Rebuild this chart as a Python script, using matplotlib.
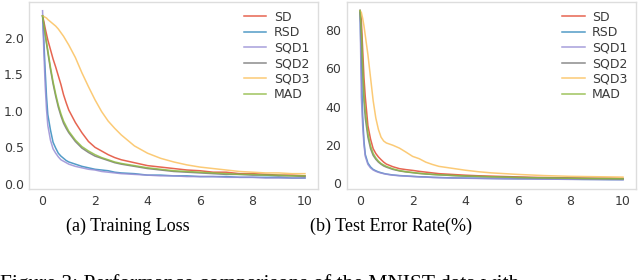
import matplotlib
matplotlib.use("Agg")
import matplotlib.pyplot as plt

names = ["SD", "RSD", "SQD1", "SQD2", "SQD3", "MAD"]
colors = ["#E24A33", "#348ABD", "#988ED5", "#777777", "#FBC15E", "#8EBA42"]

# training loss (epochs)
ep = [0, 0.05, 0.1, 0.15, 0.2, 0.3, 0.4, 0.5, 0.6, 0.7, 0.8, 0.9, 1.0, 1.25, 1.5, 1.75,
      2, 2.25, 2.5, 2.75, 3, 3.5, 4, 4.5, 5, 5.5, 6, 6.5, 7, 7.5, 8, 8.5, 9, 9.5, 10]
loss_sd = [2.30, 2.22, 2.13, 2.05, 1.97, 1.84, 1.71, 1.60, 1.48, 1.36, 1.22, 1.11, 1.01, 0.84, 0.70,
           0.58, 0.50, 0.45, 0.40, 0.36, 0.33, 0.29, 0.25, 0.23, 0.21, 0.19, 0.18, 0.16, 0.16, 0.14,
           0.14, 0.13, 0.12, 0.12, 0.11]
loss_rsd = [2.30, 1.95, 1.55, 1.20, 0.95, 0.74, 0.57, 0.49, 0.42, 0.38, 0.35, 0.32, 0.30, 0.27, 0.24,
            0.22, 0.20, 0.19, 0.18, 0.16, 0.15, 0.14, 0.12, 0.12, 0.11, 0.11, 0.10, 0.10, 0.10, 0.09,
            0.09, 0.09, 0.09, 0.08, 0.08]
loss_sqd1 = [2.37, 1.80, 1.35, 1.02, 0.80, 0.60, 0.48, 0.42, 0.37, 0.33, 0.31, 0.29, 0.27, 0.24, 0.22,
             0.20, 0.19, 0.17, 0.16, 0.15, 0.14, 0.13, 0.12, 0.11, 0.11, 0.10, 0.10, 0.10, 0.09, 0.09,
             0.09, 0.08, 0.08, 0.08, 0.08]
loss_sqd2 = [2.30, 2.17, 2.04, 1.92, 1.80, 1.57, 1.37, 1.20, 1.05, 0.93, 0.83, 0.76, 0.70, 0.58, 0.49,
             0.43, 0.38, 0.35, 0.32, 0.29, 0.27, 0.24, 0.21, 0.19, 0.17, 0.16, 0.15, 0.14, 0.13, 0.13,
             0.12, 0.12, 0.11, 0.11, 0.10]
loss_sqd3 = [2.30, 2.29, 2.28, 2.27, 2.25, 2.22, 2.19, 2.16, 2.12, 2.07, 2.02, 1.96, 1.90, 1.73, 1.52,
             1.33, 1.15, 0.99, 0.86, 0.76, 0.67, 0.52, 0.42, 0.35, 0.30, 0.26, 0.23, 0.21, 0.19, 0.17,
             0.16, 0.15, 0.15, 0.14, 0.14]
loss_mad = [2.30, 2.18, 2.06, 1.94, 1.83, 1.60, 1.40, 1.23, 1.08, 0.96, 0.86, 0.79, 0.72, 0.60, 0.51,
            0.45, 0.40, 0.36, 0.33, 0.30, 0.28, 0.25, 0.22, 0.20, 0.18, 0.17, 0.16, 0.15, 0.14, 0.13,
            0.13, 0.12, 0.12, 0.11, 0.11]

# test error rate (%)
err_sd = [90, 85, 70, 55, 45, 30, 23, 18, 15.5, 13.7, 12.3, 11.0, 10.0, 8.6, 7.6,
          7.1, 6.7, 6.2, 5.8, 5.4, 5.0, 4.6, 4.2, 3.9, 3.7, 3.5, 3.3, 3.1, 3.0, 2.9,
          2.8, 2.7, 2.6, 2.6, 2.5]
err_rsd = [90, 60, 35, 22, 15, 10.5, 8.5, 7.2, 6.5, 5.9, 5.5, 5.1, 4.8, 4.3, 4.0,
           3.8, 3.6, 3.4, 3.3, 3.1, 3.0, 2.8, 2.7, 2.6, 2.5, 2.4, 2.3, 2.3, 2.2, 2.1,
           2.1, 2.0, 2.0, 1.9, 1.9]
err_sqd1 = [90, 45, 30, 20, 14, 9.8, 8.0, 6.9, 6.2, 5.7, 5.3, 5.0, 4.7, 4.2, 3.9,
            3.7, 3.5, 3.3, 3.2, 3.0, 2.9, 2.7, 2.6, 2.5, 2.4, 2.3, 2.3, 2.2, 2.1, 2.1,
            2.0, 2.0, 1.9, 1.9, 1.8]
err_sqd2 = [90, 78, 58, 43, 34, 24, 18, 14.5, 12.5, 11.0, 9.9, 9.0, 8.4, 7.2, 6.4,
            5.9, 5.5, 5.1, 4.8, 4.6, 4.4, 4.0, 3.7, 3.5, 3.3, 3.2, 3.0, 2.9, 2.8, 2.7,
            2.6, 2.5, 2.5, 2.4, 2.3]
err_sqd3 = [90, 89, 86, 82, 77, 67, 55, 43, 34, 28, 24, 22, 21, 19.8, 18.3,
            16.2, 14.0, 12.8, 11.0, 9.8, 8.8, 7.8, 6.8, 6.0, 5.4, 5.0, 4.6, 4.3, 4.0, 3.8,
            3.6, 3.5, 3.4, 3.3, 3.2]
err_mad = [90, 80, 62, 46, 38, 26, 19.5, 15.5, 13.2, 11.5, 10.3, 9.5, 8.8, 7.5, 6.6,
           6.0, 5.6, 5.2, 4.9, 4.6, 4.4, 4.1, 3.8, 3.6, 3.4, 3.2, 3.0, 2.9, 2.8, 2.7,
           2.6, 2.5, 2.4, 2.4, 2.3]

loss = [loss_sd, loss_rsd, loss_sqd1, loss_sqd2, loss_sqd3, loss_mad]
err = [err_sd, err_rsd, err_sqd1, err_sqd2, err_sqd3, err_mad]

fig = plt.figure(figsize=(6.4, 2.8), dpi=100)
ax1 = fig.add_axes([0.046, 0.325, 0.451, 0.668])
ax2 = fig.add_axes([0.542, 0.325, 0.452, 0.668])

for ax, data in [(ax1, loss), (ax2, err)]:
    for name, c, y in zip(names, colors, data):
        ax.plot(ep, y, color=c, lw=1.1, alpha=0.85, label=name)
    for s in ax.spines.values():
        s.set_color("#dddddd")
        s.set_linewidth(1.0)
    ax.tick_params(length=0, labelsize=9, labelcolor="#3a3a3a", pad=4)
    ax.set_xlim(-0.5, 10.5)
    ax.set_xticks([0, 2, 4, 6, 8, 10])
    leg = ax.legend(loc="upper right", frameon=False, fontsize=9, handlelength=1.8,
                    handletextpad=0.6, labelspacing=0.2, borderaxespad=0.3)
    for t in leg.get_texts():
        t.set_color("#3a3a3a")

ax1.set_ylim(-0.07, 2.49)
ax1.set_yticks([0.0, 0.5, 1.0, 1.5, 2.0])
ax2.set_ylim(-3.0, 94.5)
ax2.set_yticks([0, 20, 40, 60, 80])

serif = ["Liberation Serif", "DejaVu Serif"]
fig.text(0.199, 0.19, "(a) Training Loss", ha="center", va="center", fontsize=13, family=serif)
fig.text(0.611, 0.19, "(b) Test Error Rate(%)", ha="center", va="center", fontsize=13, family=serif)
# figure caption, cut off by the bottom edge as in the source
fig.text(0.0, 0.022, "Figure 3: Performance comparisons of the MNIST data with", ha="left",
         va="top", fontsize=15.5, family=serif)

fig.savefig("out.png", dpi=100)
